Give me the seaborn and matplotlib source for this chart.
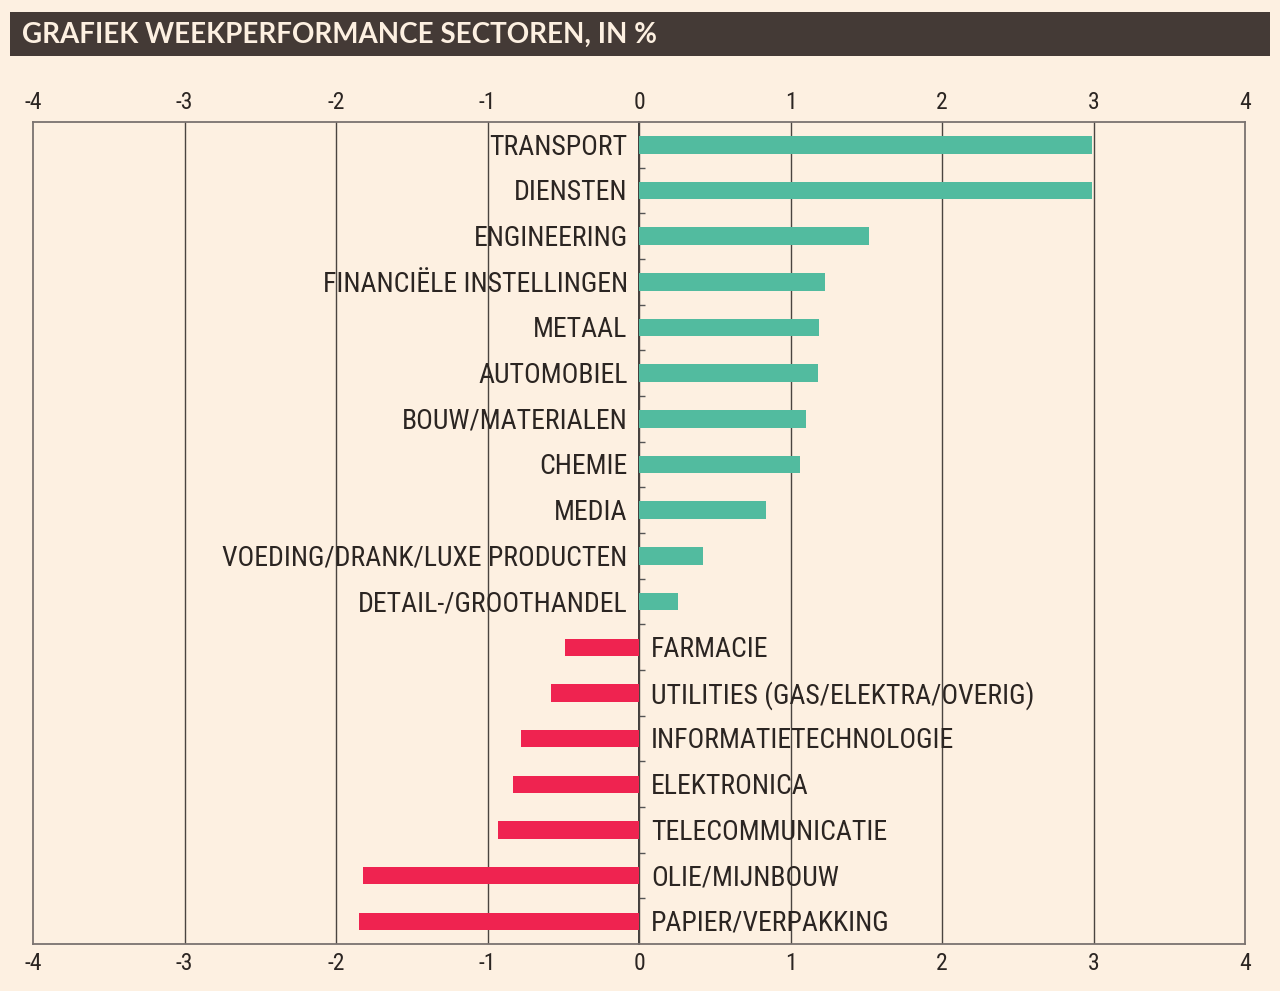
import pandas as pd
import matplotlib.pyplot as plt
import seaborn as sns
from matplotlib.patches import Rectangle

# Weekperformance per sector, in %
sectors = [
    "TRANSPORT", "DIENSTEN", "ENGINEERING", "FINANCIËLE INSTELLINGEN", "METAAL",
    "AUTOMOBIEL", "BOUW/MATERIALEN", "CHEMIE", "MEDIA", "VOEDING/DRANK/LUXE PRODUCTEN",
    "DETAIL-/GROOTHANDEL", "FARMACIE", "UTILITIES (GAS/ELEKTRA/OVERIG)",
    "INFORMATIETECHNOLOGIE", "ELEKTRONICA", "TELECOMMUNICATIE", "OLIE/MIJNBOUW",
    "PAPIER/VERPAKKING",
]
performance = [2.99, 2.99, 1.52, 1.23, 1.19, 1.18, 1.10, 1.06, 0.84, 0.42,
               0.26, -0.49, -0.58, -0.78, -0.83, -0.93, -1.82, -1.85]
x_ticks = [-4, -3, -2, -1, 0, 1, 2, 3, 4]

BG = "#fdf0e1"
GREEN = "#52bb9f"
RED = "#ef2350"
DARK = "#2b2522"

sns.set_theme(style="white")
plt.rcParams["font.family"] = ["Roboto Condensed", "DejaVu Sans"]

df = pd.DataFrame({"sector": sectors, "perf": performance})
df["sign"] = ["pos" if v >= 0 else "neg" for v in df["perf"]]

fig = plt.figure(figsize=(12.8, 9.91), dpi=100, facecolor=BG)
ax = fig.add_axes([0.0258, 0.0474, 0.9469, 0.8295])
ax.set_facecolor(BG)

sns.barplot(data=df, x="perf", y="sector", hue="sign",
            palette={"pos": GREEN, "neg": RED}, dodge=False, width=0.38,
            saturation=1, linewidth=0, legend=False, ax=ax, zorder=3)

ax.set_xlim(-4, 4)
ax.set_ylim(len(sectors) - 0.5, -0.5)
ax.set_xticks(x_ticks)
ax.set_xticklabels([str(t) for t in x_ticks])
ax.set_yticks([])
ax.set_xlabel("")
ax.set_ylabel("")
ax.tick_params(axis="x", length=0, labelsize=17, colors=DARK,
               top=True, labeltop=True, pad=6)

for t in x_ticks[1:-1]:
    ax.axvline(t, color="#4a4440", lw=1.0, zorder=2)
for s in ax.spines.values():
    s.set_color("#7a7270")
    s.set_linewidth(1.3)

# zero line with small category ticks
zero = ax.secondary_yaxis(0.5)
zero.set_yticks([i + 0.5 for i in range(len(sectors) - 1)])
zero.set_yticklabels([])
zero.tick_params(length=4, width=1, color="#555", direction="out")
zero.spines["left"].set_color("#6a6260")
zero.spines["left"].set_linewidth(1.3)

for i, (name, v) in enumerate(zip(sectors, performance)):
    if v >= 0:
        ax.text(-0.075, i + 0.05, name, ha="right", va="center", fontsize=20,
                color=DARK, zorder=4)
    else:
        ax.text(0.08, i + 0.05, name, ha="left", va="center", fontsize=20,
                color=DARK, zorder=4)

# title bar
fig.patches.append(Rectangle((10 / 1280, 1 - 56 / 991), 1260 / 1280, 44 / 991,
                             transform=fig.transFigure, facecolor="#443a36",
                             edgecolor="none", zorder=0))
fig.text(22 / 1280, 1 - 35 / 991, "GRAFIEK WEEKPERFORMANCE SECTOREN, IN %",
         ha="left", va="center", fontsize=20, fontweight="bold",
         color="#fdf0e1", family=["Lato", "DejaVu Sans"])

fig.savefig("out.png", dpi=100, facecolor=BG)
